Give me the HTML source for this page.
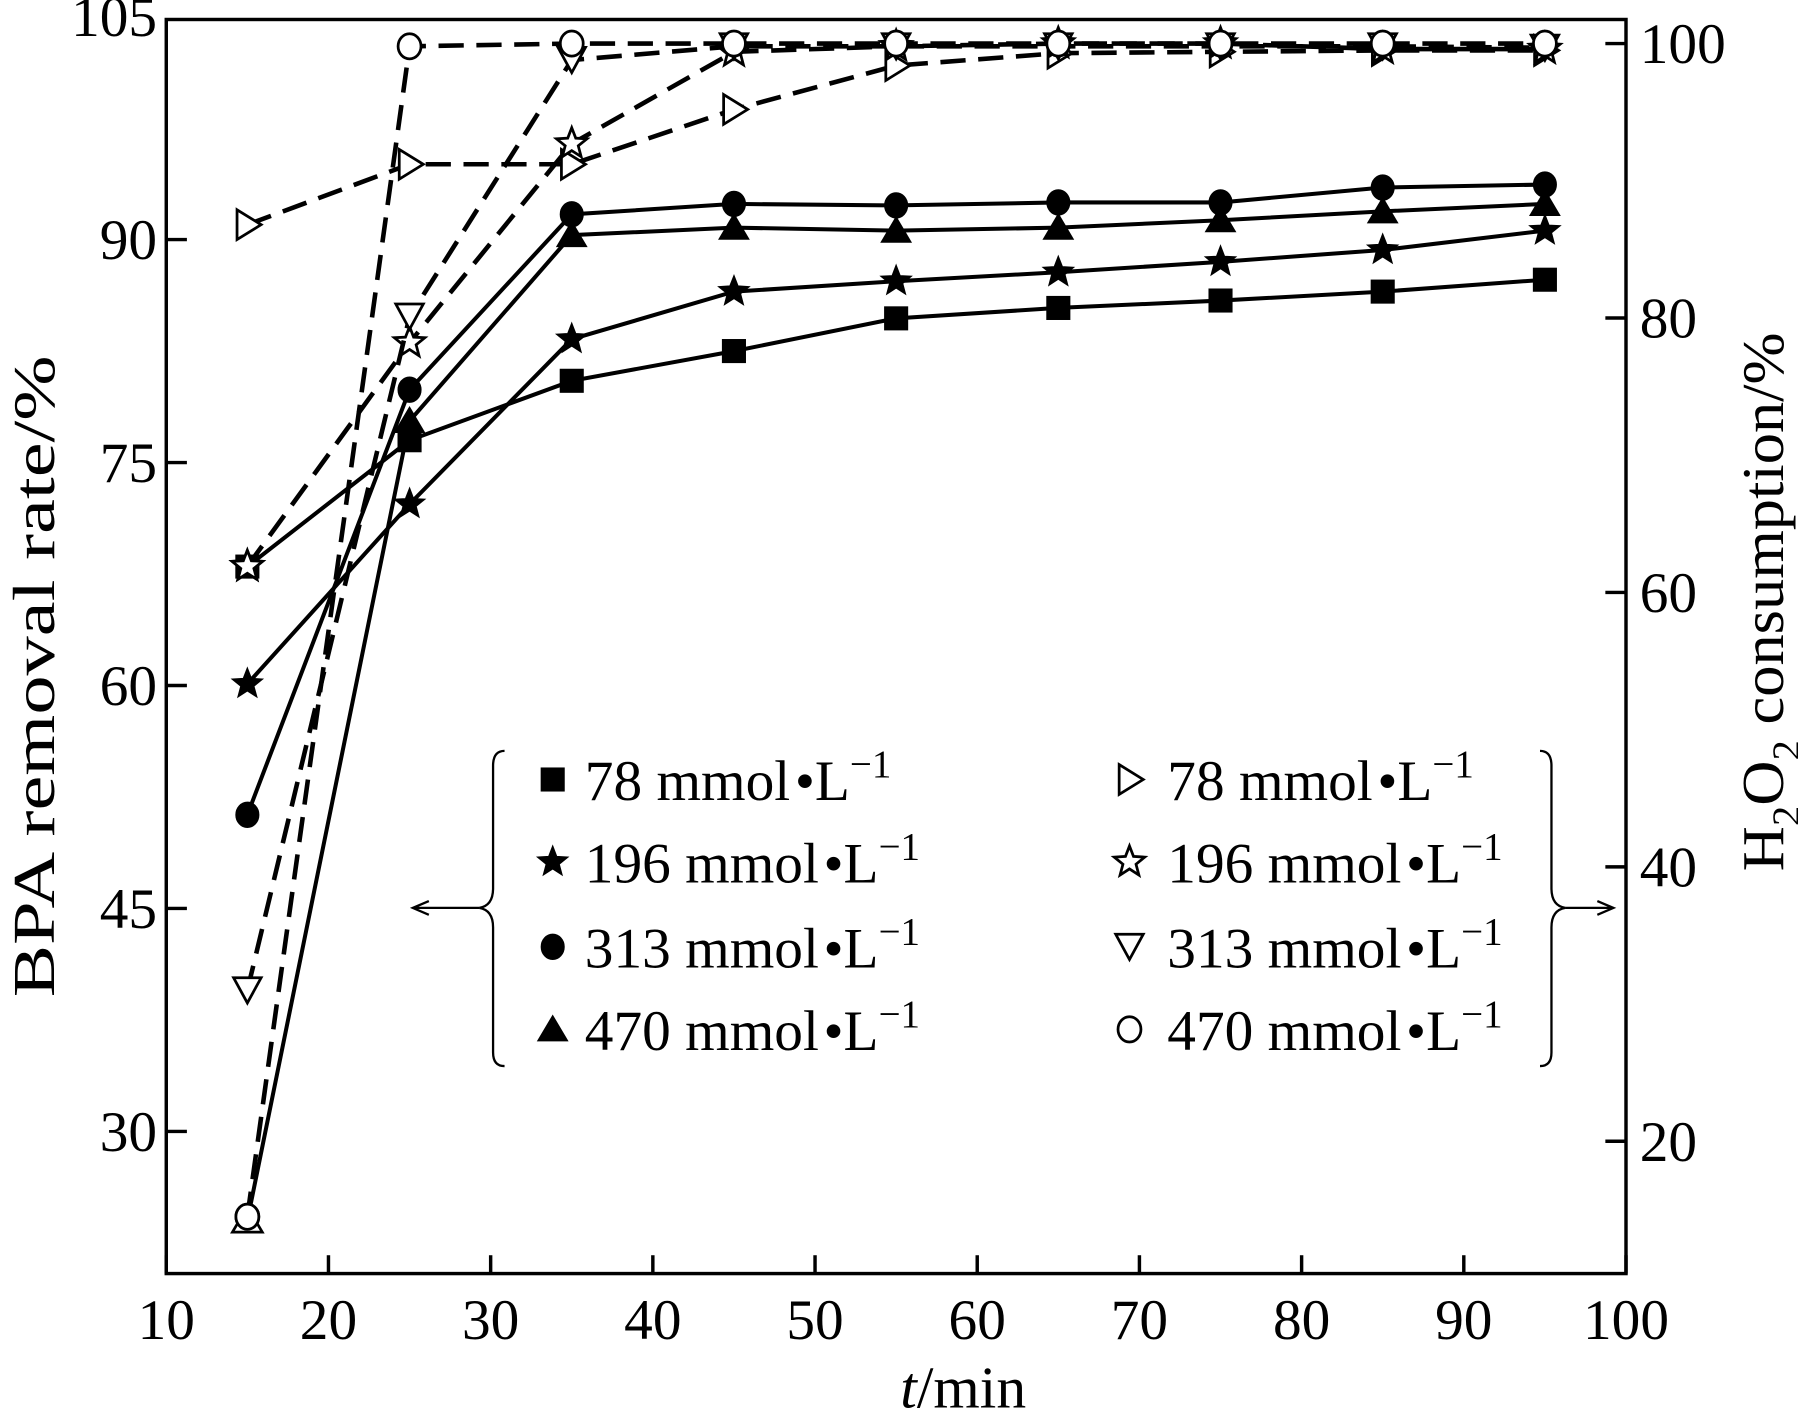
<!DOCTYPE html>
<html><head><meta charset="utf-8"><style>
html,body{margin:0;padding:0;background:#fff;}
svg{display:block;}
text{font-family:"Liberation Serif",serif;fill:#000;}
</style></head><body>
<svg id="chart" width="1798" height="1418" viewBox="0 0 1568 1237" preserveAspectRatio="none" xmlns="http://www.w3.org/2000/svg">
<g id="plot"></g>
</svg>
<script>
const times=[15,25,35,45,55,65,75,85,95];
const bpa78=[68,76.5,80.5,82.5,84.7,85.4,85.9,86.5,87.3];
const bpa196=[60.1,72.2,83.3,86.5,87.2,87.8,88.5,89.3,90.6];
const bpa313=[51.3,79.9,91.7,92.4,92.3,92.5,92.5,93.5,93.7];
const bpa470=[24,77.8,90.3,90.8,90.6,90.8,91.3,91.9,92.4];
const h2o78=[86.8,91.2,91.2,95.2,98.4,99.3,99.4,99.5,99.5];
const h2o196=[61.9,78.2,92.7,99.4,99.8,100,100,99.6,99.6];
const h2o313=[31,80.1,98.8,99.8,99.8,99.8,99.8,99.8,99.7];
const h2o470=[14.5,99.8,100,100,100,100,100,100,100];
const xTicks=[10,20,30,40,50,60,70,80,90,100];
const yLeftTicks=[30,45,60,75,90,105];
const yRightTicks=[20,40,60,80,100];
const legendLabels=["78","196","313","470"];

const NS="http://www.w3.org/2000/svg";
const L=145,R=1418,T=17,B=1111;
const xs=v=>L+(v-10)/90*(R-L);
const yl=v=>209+(90-v)*194.5/15;
const yr=v=>38+(100-v)*11.97;
const g=document.getElementById('plot');
function el(tag,attrs,parent){const e=document.createElementNS(NS,tag);for(const k in attrs)e.setAttribute(k,attrs[k]);(parent||g).appendChild(e);return e;}

const frame=el('rect',{x:L,y:T,width:R-L,height:B-T,fill:'none',stroke:'#000','stroke-width':3});



xTicks.forEach(v=>{
  const t=el('line',{x1:xs(v),x2:xs(v),y1:B,y2:B-16,stroke:'#000','stroke-width':3});
  
  
  const tx=el('text',{x:xs(v),y:B+57,'font-size':50,'text-anchor':'middle'});
  tx.textContent=v;
  
  
});
yLeftTicks.forEach(v=>{
  if(v<105){
  const t=el('line',{x1:L,x2:L+18,y1:yl(v),y2:yl(v),stroke:'#000','stroke-width':3});
  
  
  }
  const tx=el('text',{x:L-8,y:yl(v)+17,'font-size':50,'text-anchor':'end'});
  tx.textContent=v;
  
  
});
yRightTicks.forEach(v=>{
  const t=el('line',{x1:R,x2:R-18,y1:yr(v),y2:yr(v),stroke:'#000','stroke-width':3});
  
  
  const tx=el('text',{x:R+12,y:yr(v)+17,'font-size':50,'text-anchor':'start'});
  tx.textContent=v;
  
  
});

function marker(type,cx,cy,parent){
  const filled=type.startsWith('f');const kind=type.slice(1);
  const fill=filled?'#000':'#fff';const sw=filled?1:2.4;const a={fill:fill,stroke:'#000','stroke-width':sw};
  let m;
  if(kind==='sq'){m=el('rect',Object.assign({x:cx-10,y:cy-10,width:20,height:20},a),parent);}
  else if(kind==='ci'){m=el('ellipse',Object.assign({cx:cx,cy:cy,rx:10,ry:11},a),parent);}
  else if(kind==='tu'){m=el('polygon',Object.assign({points:`${cx},${cy-12} ${cx+13},${cy+10} ${cx-13},${cy+10}`},a),parent);}
  else if(kind==='td'){m=el('polygon',Object.assign({points:`${cx-12},${cy-11} ${cx+12},${cy-11} ${cx},${cy+11}`},a),parent);}
  else if(kind==='tr'){m=el('polygon',Object.assign({points:`${cx-9},${cy-13} ${cx+12},${cy} ${cx-9},${cy+13}`},a),parent);}
  else if(kind==='st'){let p=[];for(let i=0;i<10;i++){const r=i%2?6:14;const an=-Math.PI/2+i*Math.PI/5;p.push((cx+r*Math.cos(an)).toFixed(1)+','+(cy+r*Math.sin(an)).toFixed(1));}m=el('polygon',Object.assign({points:p.join(' ')},a),parent);}
  return m;
}
function series(vals,yf,type,dashed,name){
  const sg=el('g',{});
  
  
  const pts=vals.map((v,i)=>xs(times[i]).toFixed(1)+','+yf(v).toFixed(1)).join(' ');
  const ln=el('polyline',{points:pts,fill:'none',stroke:'#000','stroke-width':dashed?4:3.5,'stroke-dasharray':dashed?'22 11':'none'},sg);
  
  
  vals.forEach((v,i)=>{
    const m=marker(type,xs(times[i]),yf(v),sg);
    
    
  });
}
series(h2o78,yr,'otr',true,'h2o2-78-series');
series(h2o196,yr,'ost',true,'h2o2-196-series');
series(h2o313,yr,'otd',true,'h2o2-313-series');
series(h2o470,yr,'oci',true,'h2o2-470-series');
series(bpa78,yl,'fsq',false,'bpa-78-series');
series(bpa196,yl,'fst',false,'bpa-196-series');
series(bpa313,yl,'fci',false,'bpa-313-series');
series(bpa470,yl,'ftu',false,'bpa-470-series');
marker('ost',xs(15),yr(h2o196[0]));
marker('otu',xs(15),yl(24));
marker('oci',xs(15),yr(h2o470[0]));

const lg=el('g',{});


const rowsY=[680,752,826,898];
const lTypes=['fsq','fst','fci','ftu'],rTypes=['otr','ost','otd','oci'];
legendLabels.forEach((lab,i)=>{
  [[482,510,lTypes[i]],[985,1018,rTypes[i]]].forEach(([mx,tx,ty])=>{
    const m=marker(ty,mx,rowsY[i],lg);
    
    
    const t=el('text',{x:tx,y:rowsY[i]+18,'font-size':50},lg);
    t.innerHTML=lab+' mmol<tspan dx="4">•</tspan>L<tspan dy="-20" font-size="34">−1</tspan>';
    
    
  });
});
const b1=el('path',{d:'M440,655 Q430,655 430,668 L430,775 Q430,790 418,792 Q430,794 430,809 L430,918 Q430,930 440,930',fill:'none',stroke:'#000','stroke-width':2},lg);

const b2=el('path',{d:'M1343,655 Q1353,655 1353,668 L1353,775 Q1353,790 1365,792 Q1353,794 1353,809 L1353,918 Q1353,930 1343,930',fill:'none',stroke:'#000','stroke-width':2},lg);

const a1=el('path',{d:'M418,792 L362,792 M374,786 L360,792 L374,798',fill:'none',stroke:'#000','stroke-width':2},lg);

const a2=el('path',{d:'M1365,792 L1405,792 M1393,786 L1407,792 L1393,798',fill:'none',stroke:'#000','stroke-width':2},lg);


const xt=el('text',{x:840,y:1228,'font-size':52,'text-anchor':'middle'});
xt.innerHTML='<tspan font-style="italic">t</tspan>/min';

const ylt=el('text',{x:0,y:0,'font-size':52,'text-anchor':'middle',textLength:560,lengthAdjust:'spacingAndGlyphs',transform:'translate(47,590) rotate(-90)'});
ylt.textContent='BPA removal rate/%';

const yrt=el('text',{x:0,y:0,'font-size':52,'text-anchor':'middle',textLength:470,lengthAdjust:'spacingAndGlyphs',transform:'translate(1555,525) rotate(-90)'});
yrt.innerHTML='H<tspan dy="14" font-size="34">2</tspan><tspan dy="-14">O</tspan><tspan dy="14" font-size="34">2</tspan><tspan dy="-14"> consumption/%</tspan>';

</script>
</body></html>
